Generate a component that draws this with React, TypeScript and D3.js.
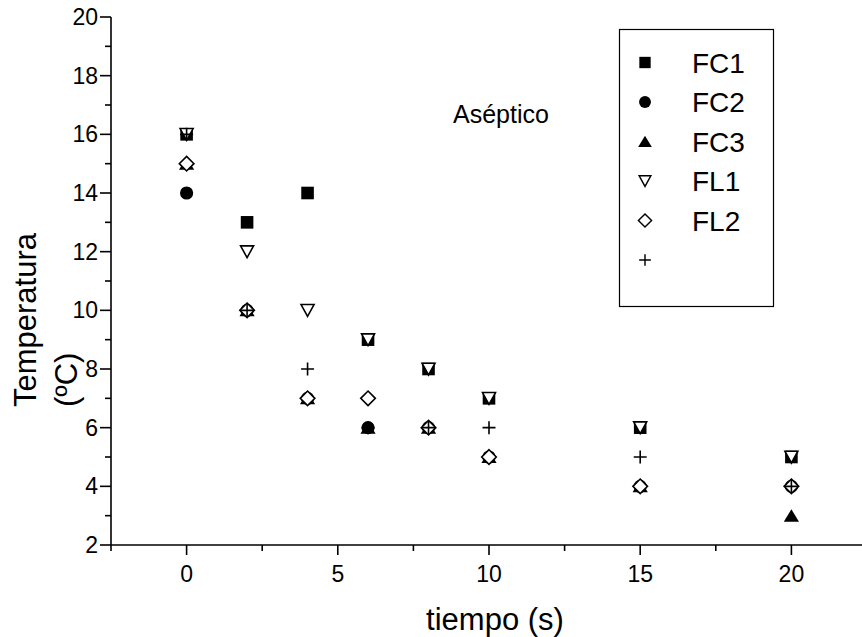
import React from "react";
import * as d3 from "d3";

// tiempo (s)
const tiempos = [0, 2, 4, 6, 8, 10, 15, 20];

// temperatura (ºC) por serie
const fc1 = [16, 13, 14, 9, 8, 7, 6, 5];
const fc2 = [14, 10, 7, 6, 6, 5, 4, 4];
const fc3 = [15, 10, 7, 6, 6, 5, 4, 3];
const fl1 = [16, 12, 10, 9, 8, 7, 6, 5];
const fl2 = [15, 10, 7, 7, 6, 5, 4, 4];
const sinNombre = [16, 10, 8, 6, 6, 6, 5, 4];

const seriesNames = ["FC1", "FC2", "FC3", "FL1", "FL2", ""];
const xTicks = [0, 5, 10, 15, 20];
const xMinor = [-2.5, 2.5, 7.5, 12.5, 17.5];
const yTicks = [2, 4, 6, 8, 10, 12, 14, 16, 18, 20];
const yMinor = [3, 5, 7, 9, 11, 13, 15, 17, 19];

const FONT = "'Liberation Sans', Arial, Helvetica, sans-serif";

const W = 862;
const H = 637;

// marker shapes, centred on 0,0
const shapes = [
  { d: "M-6.3,-6.3H6.3V6.3H-6.3Z", fill: "#000", stroke: "none" },
  { d: d3.arc()({ innerRadius: 0, outerRadius: 6.6, startAngle: 0, endAngle: 2 * Math.PI }) as string, fill: "#000", stroke: "none" },
  { d: "M0,-6.5L7.6,6L-7.6,6Z", fill: "#000", stroke: "none" },
  { d: "M-6.5,-5.8L6.5,-5.8L0,6Z", fill: "#fff", stroke: "#000" },
  { d: "M0,-7.3L7.3,0L0,7.3L-7.3,0Z", fill: "#fff", stroke: "#000" },
  { d: "M-6.5,0H6.5M0,-6.5V6.5", fill: "none", stroke: "#000" },
];

export default function App() {
  const x = d3.scaleLinear().domain([-2.5, 22.5]).range([111, 867]);
  const y = d3.scaleLinear().domain([2, 20]).range([545, 17]);

  const series = [fc1, fc2, fc3, fl1, fl2, sinNombre];

  const legendRowY = d3.scaleLinear().domain([0, 5]).range([62.5, 260]);

  return (
    <svg
      width={W}
      height={H}
      style={{ position: "absolute", left: 0, top: 0, background: "#fff" }}
      fontFamily={FONT}
    >
      <rect width={W} height={H} fill="#fff" />

      {/* eje x */}
      <line x1={x(-2.5)} x2={W} y1={y(2)} y2={y(2)} stroke="#000" strokeWidth={1.6} />
      {xTicks.map((t) => (
        <g key={"xt" + t}>
          <line x1={x(t)} x2={x(t)} y1={y(2)} y2={y(2) + 10} stroke="#000" strokeWidth={1.6} />
          <text x={x(t)} y={582} textAnchor="middle" fontSize={23}>
            {t}
          </text>
        </g>
      ))}
      {xMinor.map((t) => (
        <line key={"xm" + t} x1={x(t)} x2={x(t)} y1={y(2)} y2={y(2) + 6} stroke="#000" strokeWidth={1.6} />
      ))}

      {/* eje y */}
      <line x1={x(-2.5)} x2={x(-2.5)} y1={y(20)} y2={y(2)} stroke="#000" strokeWidth={1.6} />
      {yTicks.map((t) => (
        <g key={"yt" + t}>
          <line x1={x(-2.5) - 11} x2={x(-2.5)} y1={y(t)} y2={y(t)} stroke="#000" strokeWidth={1.6} />
          <text x={98} y={y(t) + 8} textAnchor="end" fontSize={23}>
            {t}
          </text>
        </g>
      ))}
      {yMinor.map((t) => (
        <line key={"ym" + t} x1={x(-2.5) - 6} x2={x(-2.5)} y1={y(t)} y2={y(t)} stroke="#000" strokeWidth={1.6} />
      ))}

      {/* títulos */}
      <text x={495} y={630} textAnchor="middle" fontSize={31}>
        tiempo (s)
      </text>
      <text transform="translate(36,407) rotate(-90)" fontSize={31}>
        Temperatura
      </text>
      <text transform="translate(77,407) rotate(-90)" fontSize={31}>
        (ºC)
      </text>

      <text x={453} y={123} fontSize={25}>
        Aséptico
      </text>

      {/* puntos */}
      {series.map((vals, si) => (
        <g key={"s" + si}>
          {vals.map((v, i) => (
            <path
              key={i}
              d={shapes[si].d}
              transform={`translate(${x(tiempos[i])},${y(v)})`}
              fill={shapes[si].fill}
              stroke={shapes[si].stroke}
              strokeWidth={1.6}
            />
          ))}
        </g>
      ))}

      {/* leyenda */}
      <rect x={619.5} y={29.5} width={154} height={277} fill="#fff" stroke="#000" strokeWidth={1.2} />
      {seriesNames.map((name, i) => (
        <g key={"l" + i} transform={`translate(0,${legendRowY(i)})`}>
          <path
            d={shapes[i].d}
            transform="translate(645,0) scale(0.9)"
            fill={shapes[i].fill}
            stroke={shapes[i].stroke}
            strokeWidth={1.6}
          />
          <text x={692} y={10} fontSize={28}>
            {name}
          </text>
        </g>
      ))}
    </svg>
  );
}
